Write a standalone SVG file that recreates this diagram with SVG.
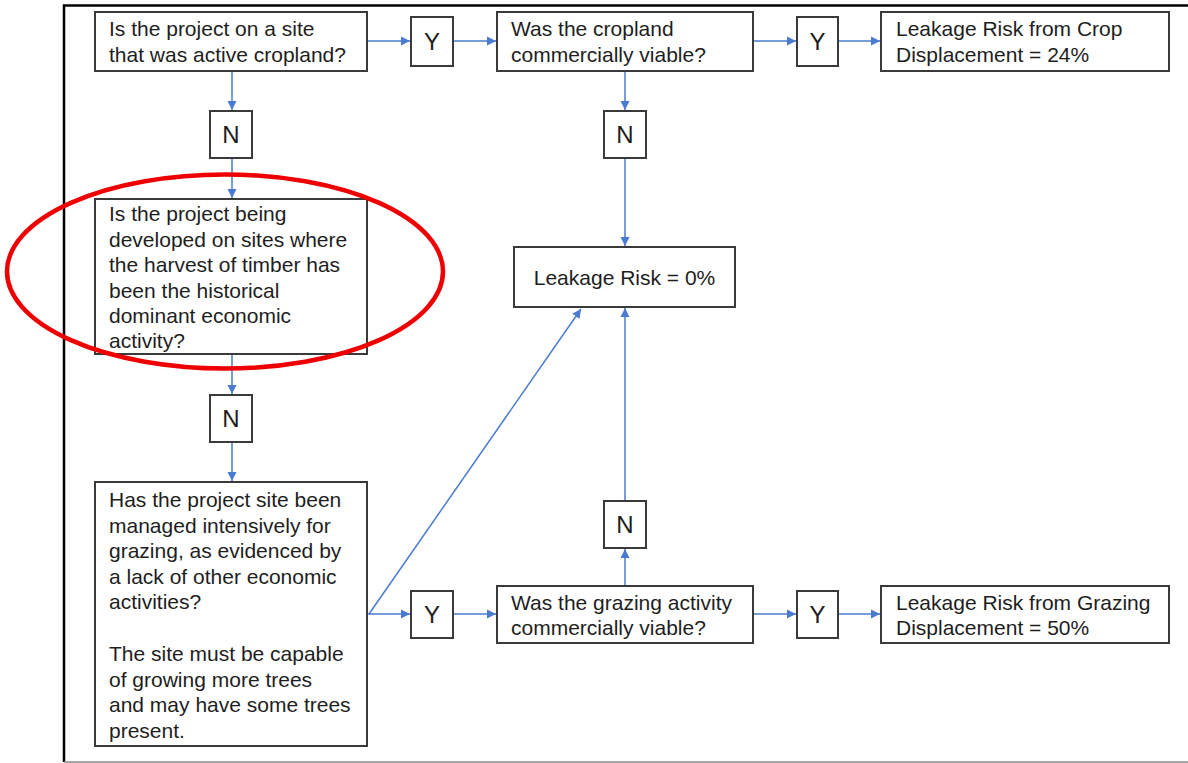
<svg xmlns="http://www.w3.org/2000/svg" width="1188" height="763" viewBox="0 0 1188 763">
<style>
.box{fill:#fff;stroke:#3a3a3a;stroke-width:2}
.t{font-family:"Liberation Sans",Arial,sans-serif;font-size:21px;fill:#1e1e1e}
.yn{font-family:"Liberation Sans",Arial,sans-serif;font-size:24px;fill:#1e1e1e;text-anchor:middle}
.c{stroke:#4a7bd0;stroke-width:1.5;fill:none;marker-end:url(#ah)}
</style>
<defs>
<marker id="ah" markerUnits="userSpaceOnUse" markerWidth="10" markerHeight="10" refX="9" refY="5" orient="auto">
<path d="M0,0.5 L9,5 L0,9.5 Z" fill="#4a7bd0"/>
</marker>
</defs>
<rect width="1188" height="763" fill="#fff"/>
<path d="M1188,5.5 H64 V762" fill="none" stroke="#000" stroke-width="2.5"/>
<line x1="64" y1="762" x2="1188" y2="762" stroke="#888" stroke-width="1.5"/>

<g id="connectors">
<line class="c" x1="367" y1="41" x2="410" y2="41"/>
<line class="c" x1="453" y1="41" x2="496" y2="41"/>
<line class="c" x1="753" y1="41" x2="796" y2="41"/>
<line class="c" x1="838" y1="41" x2="880" y2="41"/>
<line class="c" x1="232" y1="71" x2="232" y2="110"/>
<line class="c" x1="232" y1="158" x2="232" y2="198"/>
<line class="c" x1="232" y1="354" x2="232" y2="394"/>
<line class="c" x1="232" y1="442" x2="232" y2="481"/>
<line class="c" x1="625" y1="71" x2="625" y2="110"/>
<line class="c" x1="625" y1="158" x2="625" y2="246"/>
<line class="c" x1="367" y1="614" x2="410" y2="614"/>
<line class="c" x1="369" y1="614" x2="581" y2="309"/>
<line class="c" x1="453" y1="614" x2="496" y2="614"/>
<line class="c" x1="625" y1="586" x2="625" y2="549"/>
<line class="c" x1="625" y1="501" x2="625" y2="308"/>
<line class="c" x1="753" y1="614" x2="796" y2="614"/>
<line class="c" x1="838" y1="614" x2="880" y2="614"/>
</g>

<g id="q-cropland">
<rect class="box" x="95" y="12" width="272" height="59"/>
<text class="t" x="109" y="36">Is the project on a site</text>
<text class="t" x="109" y="62">that was active cropland?</text>
</g>
<g id="y1"><rect class="box" x="411" y="17" width="42" height="49"/><text class="yn" x="432" y="50">Y</text></g>
<g id="q-crop-viable">
<rect class="box" x="497" y="12" width="256" height="59"/>
<text class="t" x="511" y="36">Was the cropland</text>
<text class="t" x="511" y="62">commercially viable?</text>
</g>
<g id="y2"><rect class="box" x="797" y="17" width="41" height="49"/><text class="yn" x="817.5" y="50">Y</text></g>
<g id="r-crop">
<rect class="box" x="881" y="12" width="288" height="59"/>
<text class="t" x="896" y="36">Leakage Risk from Crop</text>
<text class="t" x="896" y="62">Displacement = 24%</text>
</g>
<g id="n1"><rect class="box" x="210" y="111" width="42" height="47"/><text class="yn" x="231" y="143">N</text></g>
<g id="n2"><rect class="box" x="604" y="111" width="42" height="47"/><text class="yn" x="625" y="143">N</text></g>
<g id="q-timber">
<rect class="box" x="95" y="199" width="272" height="155"/>
<text class="t" x="109" y="221">Is the project being</text>
<text class="t" x="109" y="246.5">developed on sites where</text>
<text class="t" x="109" y="272">the harvest of timber has</text>
<text class="t" x="109" y="297.5">been the historical</text>
<text class="t" x="109" y="323">dominant economic</text>
<text class="t" x="109" y="348">activity?</text>
</g>
<g id="r-zero">
<rect class="box" x="514" y="247" width="221" height="60"/>
<text class="t" x="624.5" y="285" text-anchor="middle">Leakage Risk = 0%</text>
</g>
<g id="n3"><rect class="box" x="210" y="395" width="42" height="47"/><text class="yn" x="231" y="427">N</text></g>
<g id="q-grazing">
<rect class="box" x="95" y="482" width="272" height="264"/>
<text class="t" x="109" y="507">Has the project site been</text>
<text class="t" x="109" y="533">managed intensively for</text>
<text class="t" x="109" y="558">grazing, as evidenced by</text>
<text class="t" x="109" y="583.5">a lack of other economic</text>
<text class="t" x="109" y="609">activities?</text>
<text class="t" x="109" y="661">The site must be capable</text>
<text class="t" x="109" y="686.5">of growing more trees</text>
<text class="t" x="109" y="712">and may have some trees</text>
<text class="t" x="109" y="737.5">present.</text>
</g>
<g id="n4"><rect class="box" x="604" y="501" width="42" height="47"/><text class="yn" x="625" y="533">N</text></g>
<g id="y3"><rect class="box" x="411" y="591" width="42" height="47"/><text class="yn" x="432" y="623">Y</text></g>
<g id="q-graze-viable">
<rect class="box" x="497" y="586" width="256" height="57"/>
<text class="t" x="511" y="609.5">Was the grazing activity</text>
<text class="t" x="511" y="634.5">commercially viable?</text>
</g>
<g id="y4"><rect class="box" x="797" y="591" width="41" height="47"/><text class="yn" x="817.5" y="623">Y</text></g>
<g id="r-grazing">
<rect class="box" x="881" y="586" width="288" height="57"/>
<text class="t" x="896" y="609.5">Leakage Risk from Grazing</text>
<text class="t" x="896" y="634.5">Displacement = 50%</text>
</g>
<ellipse id="highlight" cx="225" cy="271.5" rx="218" ry="97" fill="none" stroke="#ee0000" stroke-width="4.5"/>
</svg>
